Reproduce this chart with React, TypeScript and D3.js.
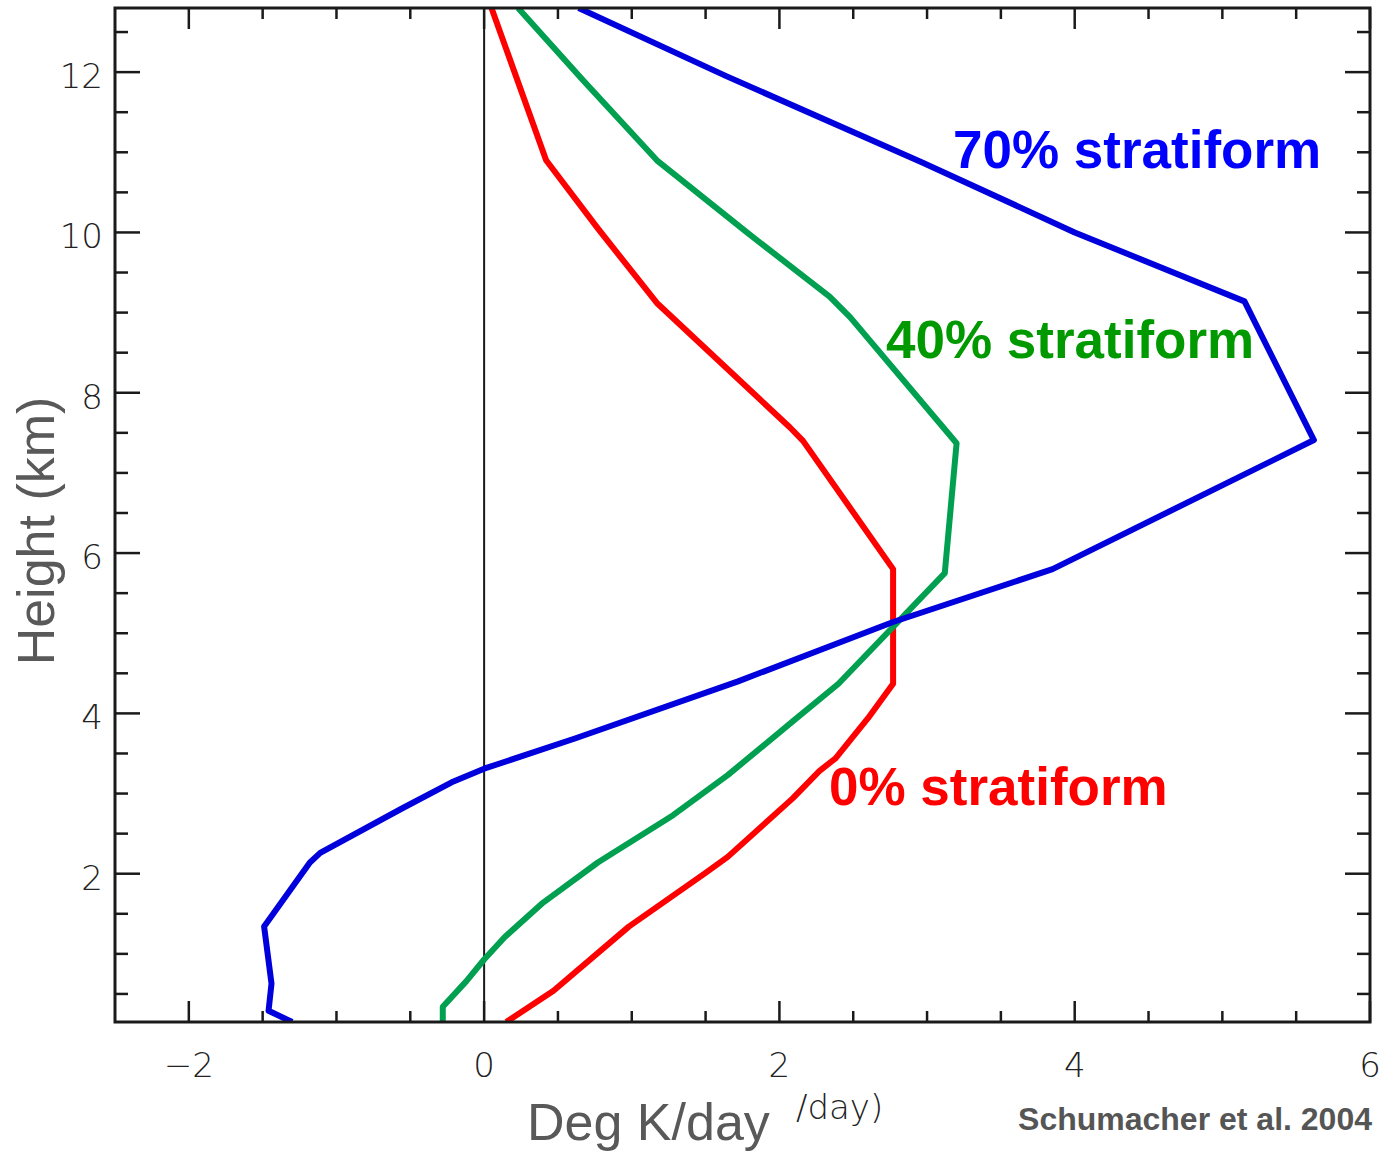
import React from 'react';
import * as d3 from 'd3';

// heating profiles, height (km) vs Deg K/day
const redHeights = [12.8, 10.9, 10.05, 9.12, 7.57, 7.4, 5.8, 4.37, 3.94, 3.44, 3.28, 2.94, 2.21, 2.01, 1.34, 0.54, 0.15];
const redValues = [0.05, 0.42, 0.77, 1.17, 2.07, 2.16, 2.77, 2.77, 2.6, 2.38, 2.27, 2.09, 1.65, 1.5, 0.98, 0.47, 0.15];

const greenHeights = [12.8, 11.9, 10.9, 10.0, 9.2, 8.94, 7.37, 5.75, 4.37, 3.9, 3.23, 2.73, 2.14, 1.64, 1.21, 0.93, 0.66, 0.34, 0.15];
const greenValues = [0.23, 0.67, 1.17, 1.78, 2.34, 2.48, 3.2, 3.12, 2.4, 2.09, 1.65, 1.28, 0.77, 0.4, 0.14, 0.0, -0.12, -0.28, -0.28];

const blueHeights = [12.8, 11.95, 10.88, 10.0, 9.14, 7.41, 5.8, 5.14, 4.4, 3.69, 3.31, 3.14, 2.81, 2.26, 2.14, 1.34, 0.63, 0.29, 0.15];
const blueValues = [0.64, 1.64, 2.96, 4.0, 5.15, 5.62, 3.85, 2.77, 1.72, 0.62, 0.0, -0.22, -0.56, -1.11, -1.18, -1.49, -1.44, -1.46, -1.3];

const xTickLabels = [-2, 0, 2, 4, 6];
const yTickLabels = [2, 4, 6, 8, 10, 12];

const seriesLabels = ['70% stratiform', '40% stratiform', '0% stratiform'];

const W = 1385, H = 1153;
const plot = { left: 115, right: 1370, top: 8, bottom: 1022 };

const x = d3.scaleLinear().domain([-2.5, 6]).range([plot.left, plot.right]);
const y = d3.scaleLinear().domain([0.15, 12.8]).range([plot.bottom, plot.top]);

const tickFont = "'DejaVu Sans', sans-serif";
const labelFont = "'Liberation Sans', Arial, sans-serif";

function Profile({ values, heights, color }: { values: number[]; heights: number[]; color: string }) {
  const line = d3.line<number>().x((v) => x(v)).y((_, i) => y(heights[i]));
  return <path d={line(values) || ''} fill="none" stroke={color} strokeWidth={6} strokeLinejoin="round" />;
}

export default function App() {
  const minorX = d3.range(-2, 6.01, 0.5);
  const minorY = d3.range(0.5, 12.8, 0.5);
  const isMajor = (v: number) => Math.abs(v - Math.round(v)) < 1e-6 && Math.round(v) % 2 === 0;
  const axisColor = '#1a1a1a';

  return (
    <svg width={W} height={H} xmlns="http://www.w3.org/2000/svg"
      style={{ position: 'absolute', left: 0, top: 0, background: '#fff' }}>
      <rect x={0} y={0} width={W} height={H} fill="#fff" />
      <defs>
        <clipPath id="plotClip">
          <rect x={plot.left} y={plot.top} width={plot.right - plot.left} height={plot.bottom - plot.top} />
        </clipPath>
      </defs>

      {/* zero line */}
      <line x1={x(0)} x2={x(0)} y1={plot.top} y2={plot.bottom} stroke={axisColor} strokeWidth={2} />

      <g clipPath="url(#plotClip)">
        <Profile values={redValues} heights={redHeights} color="#ff0000" />
        <Profile values={greenValues} heights={greenHeights} color="#00a050" />
        <Profile values={blueValues} heights={blueHeights} color="#0000dd" />
      </g>

      {/* frame */}
      <rect x={plot.left} y={plot.top} width={plot.right - plot.left} height={plot.bottom - plot.top}
        fill="none" stroke={axisColor} strokeWidth={3} />

      {/* x ticks, bottom and top */}
      {minorX.map((v, i) => {
        const len = isMajor(v) ? 21 : 11;
        return (
          <g key={`tx_${i}`}>
            <line x1={x(v)} x2={x(v)} y1={plot.bottom} y2={plot.bottom - len} stroke={axisColor} strokeWidth={2.5} />
            <line x1={x(v)} x2={x(v)} y1={plot.top} y2={plot.top + len} stroke={axisColor} strokeWidth={2.5} />
          </g>
        );
      })}
      {/* y ticks, left and right */}
      {minorY.map((v, i) => {
        const len = isMajor(v) ? 25 : 13;
        return (
          <g key={`ty_${i}`}>
            <line x1={plot.left} x2={plot.left + len} y1={y(v)} y2={y(v)} stroke={axisColor} strokeWidth={2.5} />
            <line x1={plot.right} x2={plot.right - len} y1={y(v)} y2={y(v)} stroke={axisColor} strokeWidth={2.5} />
          </g>
        );
      })}

      {xTickLabels.map((v, i) => (
        <text key={`lx_${i}`} x={x(v)} y={1077} textAnchor="middle" fontFamily={tickFont} fontWeight={200}
          fontSize={34} fill="#222">{v < 0 ? `\u2212${Math.abs(v)}` : v}</text>
      ))}
      {yTickLabels.map((v, i) => (
        <text key={`ly_${i}`} x={103} y={y(v) + 16} textAnchor="end" fontFamily={tickFont} fontWeight={200}
          fontSize={34} fill="#222">{v}</text>
      ))}

      {/* axis titles */}
      <text transform="translate(54, 531) rotate(-90)" textAnchor="middle" fontFamily={labelFont}
        fontSize={52} fill="#595959">Height (km)</text>
      <text x={527} y={1140} fontFamily={labelFont} fontSize={52} fill="#595959">Deg K/day</text>
      <text x={796} y={1119} fontFamily={tickFont} fontWeight={200} fontSize={34} fill="#222">/day)</text>
      <text x={1372} y={1130} textAnchor="end" fontFamily={labelFont} fontWeight="bold" fontSize={32}
        fill="#555">Schumacher et al. 2004</text>

      {/* series labels */}
      <text x={953} y={168} fontFamily={labelFont} fontWeight="bold" fontSize={53} fill="#0000ff">{seriesLabels[0]}</text>
      <text x={886} y={358} fontFamily={labelFont} fontWeight="bold" fontSize={53} fill="#009900">{seriesLabels[1]}</text>
      <text x={829} y={805} fontFamily={labelFont} fontWeight="bold" fontSize={53} fill="#ff0000">{seriesLabels[2]}</text>
    </svg>
  );
}
